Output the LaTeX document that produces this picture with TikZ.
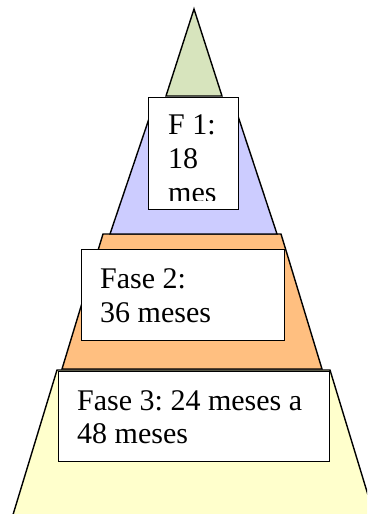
\documentclass[tikz,border=0pt]{standalone}
\usepackage{fontspec}
\setmainfont{Liberation Serif}
\frenchspacing
\definecolor{lgreen}{HTML}{D7E4BD}
\definecolor{lpurple}{HTML}{CCCCFF}
\definecolor{lorange}{HTML}{FFBF80}
\definecolor{lyellow}{HTML}{FFFFCC}
\tikzset{
  layer/.style={draw=black, line width=1.4pt, line join=miter},
  box/.style={draw=black, fill=white, line width=1.4pt, rectangle, inner sep=0pt, anchor=north west},
  txt/.style={anchor=base west, inner sep=0pt, font=\fontsize{30}{34}\selectfont}
}
\begin{document}
\begin{tikzpicture}[x=1pt, y=-1pt]
\useasboundingbox (0,0) rectangle (367,514);
\begin{scope}
\clip (0,0) rectangle (367,514);
% layers
\fill[lyellow] (57,370) -- (330,370) -- (375,518) -- (12,518) -- cycle;
\draw[layer] (12,518) -- (57,370) -- (330,370) -- (375,518);
\draw[layer, fill=lorange] (103,234) -- (281,234) -- (322,369) -- (62,369) -- cycle;
\draw[layer, fill=lpurple] (156,98) -- (232,98) -- (277,234) -- (110,234) -- cycle;
\draw[layer, fill=lgreen] (194,9) -- (222,96) -- (166,96) -- cycle;
\end{scope}
% boxes
\node[box, minimum width=90pt, minimum height=112pt] (b1) at (148,97) {};
\node[box, minimum width=203pt, minimum height=91pt] (b2) at (81,249) {};
\node[box, minimum width=271pt, minimum height=90pt] (b3) at (58,371) {};
% texts
\begin{scope}
\clip (150,99) rectangle (236,200);
\node[txt] (t1a) at (168,134) {F 1:};
\node[txt] (t1b) at (168,168) {18};
\node[txt] (t1c) at (168,202) {mes};
\end{scope}
\node[txt] (t2a) at (100,288) {Fase 2:};
\node[txt] (t2b) at (100,322) {36 meses};
\node[txt] (t3a) at (77,410) {Fase 3: 24 meses a};
\node[txt] (t3b) at (77,443) {48 meses};
\end{tikzpicture}
\end{document}
